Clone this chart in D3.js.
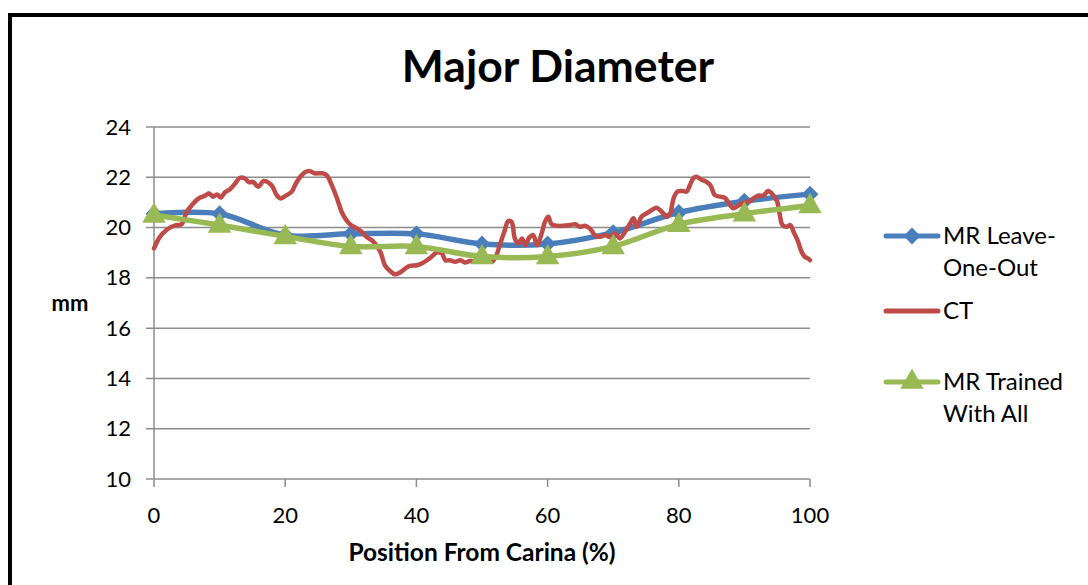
<!DOCTYPE html>
<html>
<head>
<meta charset="utf-8">
<script src="https://cdn.jsdelivr.net/npm/d3@7"></script>
<style>
  body { margin: 0; background: #fff; }
  text { font-family: Lato, "Open Sans", sans-serif; fill: #000; }
</style>
</head>
<body>
<div id="main"></div>
<script>
'use strict';

var width = 1088, height = 585;

// data
var positions = [0, 10, 20, 30, 40, 50, 60, 70, 80, 90, 100];
var leaveOneOut = [20.55, 20.55, 19.7, 19.75, 19.75, 19.35, 19.35, 19.8, 20.6, 21.05, 21.33];
var trainedAll = [20.5, 20.1, 19.65, 19.25, 19.25, 18.85, 18.85, 19.25, 20.13, 20.55, 20.88];
var ctPos = [0, 0.9, 1.9, 2.7, 3.5, 4.2, 5.0, 5.8, 6.8, 7.8, 8.4, 9.0, 9.6, 10.2, 10.8, 11.6, 12.4, 13.1, 13.8, 14.5, 15.1, 15.9, 16.7,
  17.9, 18.7, 19.3, 20.1, 21.0, 21.5, 22.3, 23.0, 23.7, 24.5, 25.6, 26.3, 27.1, 27.9, 28.6, 29.3, 30.0, 30.9, 31.7, 32.4, 33.4,
  34.5, 35.2, 36.0, 36.7, 37.5, 38.3, 39.0, 40.1, 40.8, 41.6, 42.3, 43.1, 43.9, 44.4, 45.1, 45.9, 46.7, 47.4, 48.2, 49.2, 49.9,
  50.7, 51.5, 52.2, 52.7, 53.4, 54.0, 54.5, 55.0, 55.5, 56.1, 56.6, 57.2, 57.8, 58.4, 59.1, 59.6, 60.1, 60.6, 61.4, 62.4, 63.4,
  64.2, 64.9, 65.7, 66.5, 67.2, 68.0, 68.8, 69.5, 70.3, 71.0, 71.8, 72.6, 73.1, 73.6, 74.3, 75.1, 75.9, 76.6, 77.4, 78.2, 78.7,
  79.2, 79.8, 80.6, 81.2, 81.7, 82.2, 82.7, 83.5, 84.0, 84.8, 85.5, 86.3, 87.0, 87.8, 88.3, 88.8, 89.6, 90.6, 91.4, 92.1, 92.9,
  93.6, 94.4, 95.0, 95.4, 95.8, 96.5, 97.0, 97.6, 98.2, 98.7, 99.2, 99.7, 100];
var ctVal = [19.17, 19.63, 19.9, 20.03, 20.1, 20.13, 20.63, 20.9, 21.16, 21.27, 21.36, 21.23, 21.32, 21.2, 21.4, 21.53, 21.76, 21.98, 21.96, 21.8, 21.82, 21.62, 21.85,
  21.69, 21.29, 21.16, 21.27, 21.43, 21.69, 22.02, 22.2, 22.25, 22.16, 22.16, 22.09, 21.69, 21.16, 20.63, 20.3, 20.1, 19.97, 19.83, 19.63, 19.45,
  19.04, 18.5, 18.27, 18.14, 18.21, 18.37, 18.48, 18.5, 18.57, 18.7, 18.84, 19.01, 18.97, 18.7, 18.7, 18.64, 18.7, 18.61, 18.67, 18.64, 18.7,
  18.77, 18.64, 18.9, 19.3, 19.83, 20.26, 20.23, 19.57, 19.37, 19.57, 19.3, 19.6, 19.7, 19.3, 19.77, 20.23, 20.43, 20.13, 20.07, 20.07, 20.1,
  20.13, 20.03, 20.07, 19.95, 19.7, 19.63, 19.7, 19.63, 19.77, 19.57, 19.83, 20.17, 20.37, 20.03, 20.43, 20.57, 20.7, 20.79, 20.63, 20.43, 20.57,
  21.16, 21.43, 21.45, 21.43, 21.69, 21.96, 22.02, 21.89, 21.85, 21.69, 21.29, 21.23, 21.19, 20.9, 20.77, 20.83, 20.96, 21.03, 21.16, 21.27, 21.27,
  21.45, 21.29, 21.03, 20.5, 20.1, 20.03, 20.1, 19.77, 19.43, 19.04, 18.84, 18.77, 18.7];
var yTicks = [10, 12, 14, 16, 18, 20, 22, 24];
var xTicks = [0, 20, 40, 60, 80, 100];

var blue = '#4A7EBB', red = '#BE4B48', green = '#98B954', grid = '#8C8C8C';

var svg = d3.select('#main').append('svg').attr('width', width).attr('height', height);

// outer frame
svg.append('rect')
  .attr('x', 10).attr('y', 15)
  .attr('width', 1100).attr('height', 600)
  .attr('fill', 'none').attr('stroke', '#000').attr('stroke-width', 4);

var x = d3.scaleLinear().domain([0, 100]).range([154, 810]);
var y = d3.scaleLinear().domain([10, 24]).range([479, 127]);

// gridlines
svg.append('g').selectAll('line')
  .data(yTicks).enter()
  .append('line')
  .attr('x1', 146).attr('x2', 810)
  .attr('y1', function(d) { return y(d); }).attr('y2', function(d) { return y(d); })
  .attr('stroke', grid).attr('stroke-width', 1.5);

// y axis line
svg.append('line')
  .attr('x1', 154).attr('x2', 154).attr('y1', y(24)).attr('y2', y(10))
  .attr('stroke', grid).attr('stroke-width', 1.5);

// x ticks
svg.append('g').selectAll('line')
  .data(xTicks).enter()
  .append('line')
  .attr('x1', function(d) { return x(d); }).attr('x2', function(d) { return x(d); })
  .attr('y1', 479).attr('y2', 487)
  .attr('stroke', grid).attr('stroke-width', 1.5);

svg.append('g').selectAll('text')
  .data(yTicks).enter()
  .append('text')
  .attr('x', 131).attr('y', function(d) { return y(d) + 7.5; })
  .attr('text-anchor', 'end').attr('font-size', 22)
  .text(function(d) { return d; });

svg.append('g').selectAll('text')
  .data(xTicks).enter()
  .append('text')
  .attr('x', function(d) { return x(d); }).attr('y', 523)
  .attr('text-anchor', 'middle').attr('font-size', 22)
  .text(function(d) { return d; });

svg.append('text')
  .attr('x', 558).attr('y', 82).attr('text-anchor', 'middle')
  .attr('font-size', 44.5).attr('font-weight', 'bold')
  .text('Major Diameter');

svg.append('text')
  .attr('x', 482).attr('y', 561).attr('text-anchor', 'middle')
  .attr('font-size', 24.5).attr('font-weight', 'bold')
  .text('Position From Carina (%)');

svg.append('text')
  .attr('x', 70).attr('y', 311).attr('text-anchor', 'middle')
  .attr('font-size', 22).attr('font-weight', 'bold')
  .text('mm');

var smooth = d3.line().curve(d3.curveCatmullRom.alpha(0.5));

function pts(xs, ys) {
  return xs.map(function(v, i) { return [x(v), y(ys[i])]; });
}

var diamond = d3.symbol().type(d3.symbolDiamond2).size(180);
var triangle = d3.symbol().type(d3.symbolTriangle).size(240);

// MR Leave-One-Out
svg.append('path').attr('d', smooth(pts(positions, leaveOneOut)))
  .attr('fill', 'none').attr('stroke', blue).attr('stroke-width', 5.5).attr('stroke-linejoin', 'round');
svg.append('g').selectAll('path')
  .data(pts(positions, leaveOneOut)).enter()
  .append('path').attr('d', diamond)
  .attr('transform', function(d) { return 'translate(' + d[0] + ',' + d[1] + ')'; })
  .attr('fill', blue);

// CT
svg.append('path').attr('d', smooth(pts(ctPos, ctVal)))
  .attr('fill', 'none').attr('stroke', red).attr('stroke-width', 4.5)
  .attr('stroke-linejoin', 'round').attr('stroke-linecap', 'round');

// MR Trained With All
svg.append('path').attr('d', smooth(pts(positions, trainedAll)))
  .attr('fill', 'none').attr('stroke', green).attr('stroke-width', 5.5).attr('stroke-linejoin', 'round');
svg.append('g').selectAll('path')
  .data(pts(positions, trainedAll)).enter()
  .append('path').attr('d', triangle)
  .attr('transform', function(d) { return 'translate(' + d[0] + ',' + (d[1] + 1) + ')'; })
  .attr('fill', green);

// legend
var legend = [
  { color: blue, marker: diamond, lines: ['MR Leave-', 'One-Out'], y: 236 },
  { color: red, marker: null, lines: ['CT'], y: 311 },
  { color: green, marker: triangle, lines: ['MR Trained', 'With All'], y: 382 }
];
var lg = svg.append('g').selectAll('g').data(legend).enter().append('g');
lg.append('line')
  .attr('x1', 886).attr('x2', 938)
  .attr('y1', function(d) { return d.y; }).attr('y2', function(d) { return d.y; })
  .attr('stroke', function(d) { return d.color; }).attr('stroke-width', 5).attr('stroke-linecap', 'round');
lg.filter(function(d) { return d.marker; }).append('path')
  .attr('d', function(d) { return d.marker(); })
  .attr('transform', function(d) { return 'translate(912,' + d.y + ')'; })
  .attr('fill', function(d) { return d.color; });
lg.append('text')
  .attr('x', 943).attr('y', function(d) { return d.y + 8; })
  .attr('font-size', 24)
  .selectAll('tspan').data(function(d) { return d.lines; }).enter()
  .append('tspan')
  .attr('x', 943).attr('dy', function(d, i) { return i ? 32 : 0; })
  .text(function(d) { return d; });
</script>
</body>
</html>
